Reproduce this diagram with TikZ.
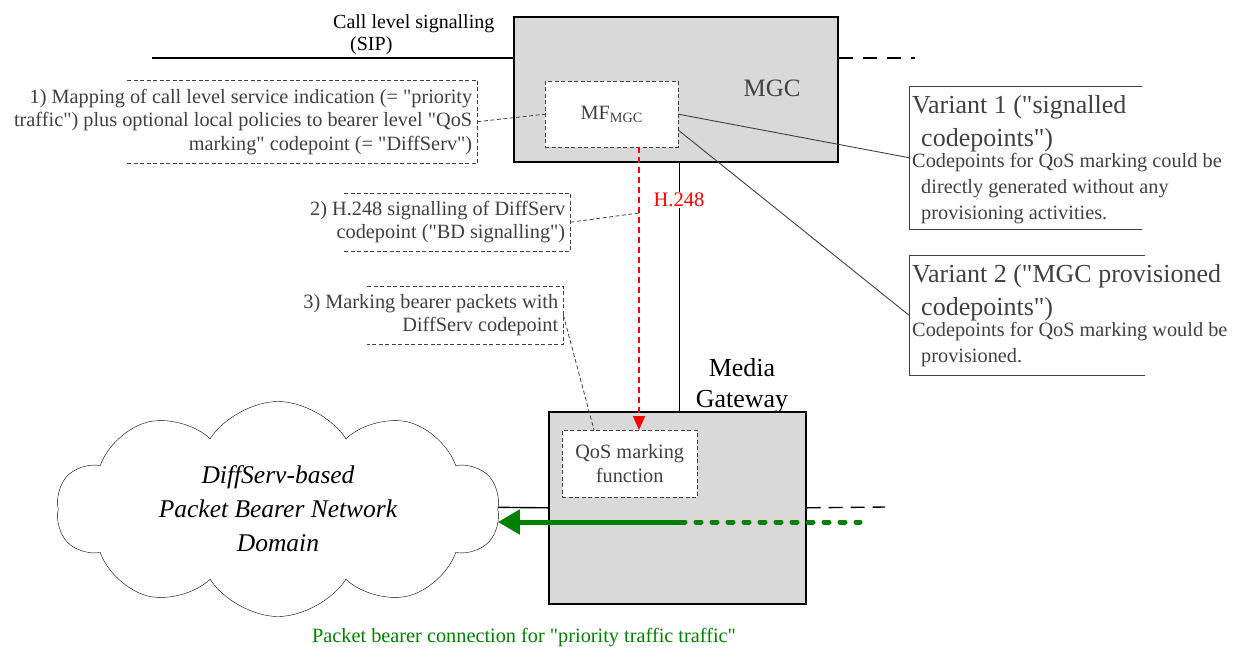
\documentclass[tikz,border=0pt]{standalone}
\usepackage{fontspec}
\setmainfont{Liberation Serif}
\usetikzlibrary{shapes.symbols, arrows.meta, positioning}
\definecolor{boxgray}{HTML}{D9D9D9}
\definecolor{txtgray}{HTML}{404040}
\definecolor{bearergreen}{HTML}{008000}
\def\q{\textquotedbl}
\def\fsnote{\fontsize{20.3}{23.5}\selectfont}
\def\fsbody{\fontsize{20.3}{26}\selectfont}
\def\fsbig{\fontsize{26}{33}\selectfont}
\tikzset{
  gwbox/.style = {draw, line width=1.6pt, fill=boxgray, inner sep=0pt},
  funcbox/.style = {draw=txtgray, dash pattern=on 4pt off 2.5pt, fill=white, inner sep=0pt, text=txtgray, align=center, font=\fsnote},
  notebox/.style = {inner sep=0pt},
  noteline/.style = {draw=txtgray, dash pattern=on 4pt off 2.5pt, line width=0.8pt},
  notetext/.style = {text=txtgray, align=right, inner sep=0pt, font=\fsnote},
  vartext/.style = {text=txtgray, align=left, inner sep=0pt},
  leader/.style = {draw=txtgray, dash pattern=on 4pt off 2.5pt, line width=0.8pt},
  varline/.style = {draw=txtgray, line width=0.9pt},
  bearer/.style = {draw=bearergreen, line width=5pt},
}

\begin{document}
\begin{tikzpicture}[x=1pt, y=-1pt]
    \useasboundingbox (0,0) rectangle (1241,651);

    % MGC and its mapping function
    \node[gwbox, minimum width=324pt, minimum height=145pt, anchor=north west] (mgc) at (513,16) {};
    \node[text=txtgray, font=\fontsize{25}{31}\selectfont, inner sep=0pt] (mgclabel) at (772,88) {MGC};
    \node[funcbox, minimum width=133pt, minimum height=66pt, anchor=north west] (mf) at (545,81) {MF\textsubscript{MGC}};

    \coordinate (sipin) at (152,58);
    \coordinate (sipout) at (915,58);
    \draw[line width=1.6pt] (sipin) -- (sipin -| mgc.west);
    \draw[line width=1.6pt, dash pattern=on 14pt off 10pt] (mgc.east |- sipout) -- (sipout);
    \node[font=\fontsize{20}{22}\selectfont, align=left, inner sep=0pt, anchor=south west] (siplabel) at (333,55)
        {Call level signalling\\\hspace*{17pt}(SIP)};

    % media gateway
    \node[gwbox, minimum width=257pt, minimum height=192pt, anchor=north west] (mg) at (548,411) {};
    \node[font=\fontsize{26}{31}\selectfont, align=center, inner sep=0pt] (mglabel) at (742,386) {Media\\Gateway};
    \node[funcbox, minimum width=135pt, minimum height=67pt, anchor=north west] (qos) at (562,430) {QoS marking\\function};

    % H.248 control link
    \node[text=red, fill=white, font=\fontsize{20.6}{24}\selectfont, inner sep=1pt] (h248) at (679,200) {H.248};
    \draw[line width=0.9pt] (mgc.south -| h248) -- (h248) -- (mg.north -| h248);
    \coordinate (sigx) at (639,213);
    \draw[red, line width=1.6pt, dash pattern=on 6pt off 4pt, -{Triangle[length=14pt, width=12pt]}]
        (mf.south -| sigx) -- (qos.north -| sigx);

    % annotations
    \node[notebox, minimum width=350pt, minimum height=83pt, anchor=north west] (note1) at (127,80) {};
    \draw[noteline] (note1.north west) -- (note1.north east) -- (note1.south east) -- (note1.south west);
    \node[notetext, anchor=east] (note1text) at ([xshift=-5pt]note1.east)
        {1) Mapping of call level service indication (= \q priority\\traffic\q) plus optional local policies to bearer level \q QoS\\marking\q{} codepoint (= \q DiffServ\q)};
    \node[notebox, minimum width=226pt, minimum height=58pt, anchor=north west] (note2) at (344,193) {};
    \draw[noteline] (note2.north west) -- (note2.north east) -- (note2.south east) -- (note2.south west);
    \node[notetext, anchor=east] (note2text) at ([xshift=-5pt]note2.east)
        {2) H.248 signalling of DiffServ\\codepoint (\q BD signalling\q)};
    \node[notebox, minimum width=196pt, minimum height=58pt, anchor=north west] (note3) at (367,286) {};
    \draw[noteline] (note3.north west) -- (note3.north east) -- (note3.south east) -- (note3.south west);
    \node[notetext, anchor=east] (note3text) at ([xshift=-5pt]note3.east)
        {3) Marking bearer packets with\\DiffServ codepoint};
    \draw[leader] (note1.east) -- (mf.west);
    \draw[leader] (note2.east) -- (sigx);
    \draw[leader] (note3.east) -- ([xshift=32pt]qos.north west);

    % packet network
    \coordinate (netin) at (463,507);
    \draw[line width=1.4pt] (netin) -- (mg.west);
    \coordinate (mgout) at (885,507);
    \draw[line width=1.4pt, dash pattern=on 14pt off 8pt] (mg.east) -- (mgout);
    \node[cloud, draw, fill=white, cloud puffs=10, cloud puff arc=115, aspect=2.06,
        minimum width=443pt, minimum height=215pt, align=center, inner sep=0pt,
        font=\fontsize{25.5}{34}\selectfont\itshape] (net) at (278,509)
        {DiffServ-based\\Packet Bearer Network\\Domain};

    % bearer connection
    \coordinate (gstart) at (680,522);
    \coordinate (gfar) at (860,522);
    \draw[bearer, dash pattern=on 5pt off 11pt, line cap=round] (gstart) -- (gfar);
    \draw[bearer, -{Triangle[length=22pt, width=24pt]}] (gstart) -- (net.east |- gstart);
    \node[text=bearergreen, font=\fsnote, inner sep=0pt] (bearerlabel) at (524,638)
        {Packet bearer connection for \q priority traffic traffic\q};

    % variants
    \node[minimum width=233pt, minimum height=143pt, inner sep=0pt, anchor=north west] (var1) at (909,86) {};
    \draw[varline] (var1.north east) -- (var1.north west) -- (var1.south west) -- (var1.south east);
    \node[vartext, font=\fsbig, anchor=north west] (var1head) at ([xshift=3pt, yshift=-9pt]var1.north west)
        {Variant 1 (\q signalled\\\hspace*{9pt}codepoints\q)};
    \node[vartext, font=\fsbody, below=1pt of var1head.south west, anchor=north west] (var1body)
        {Codepoints for QoS marking could be\\\hspace*{9pt}directly generated without any\\\hspace*{9pt}provisioning activities.};

    \node[minimum width=236pt, minimum height=120pt, inner sep=0pt, anchor=north west] (var2) at (909,255) {};
    \draw[varline] (var2.north east) -- (var2.north west) -- (var2.south west) -- (var2.south east);
    \node[vartext, font=\fsbig, anchor=north west] (var2head) at ([xshift=3pt, yshift=-9pt]var2.north west)
        {Variant 2 (\q MGC provisioned\\\hspace*{9pt}codepoints\q)};
    \node[vartext, font=\fsbody, below=1pt of var2head.south west, anchor=north west] (var2body)
        {Codepoints for QoS marking would be\\\hspace*{9pt}provisioned.};

    \draw[varline] (mf.east) -- (var1.west);
    \draw[varline] ([yshift=-16pt]mf.east) -- (var2.west);
\end{tikzpicture}
\end{document}
